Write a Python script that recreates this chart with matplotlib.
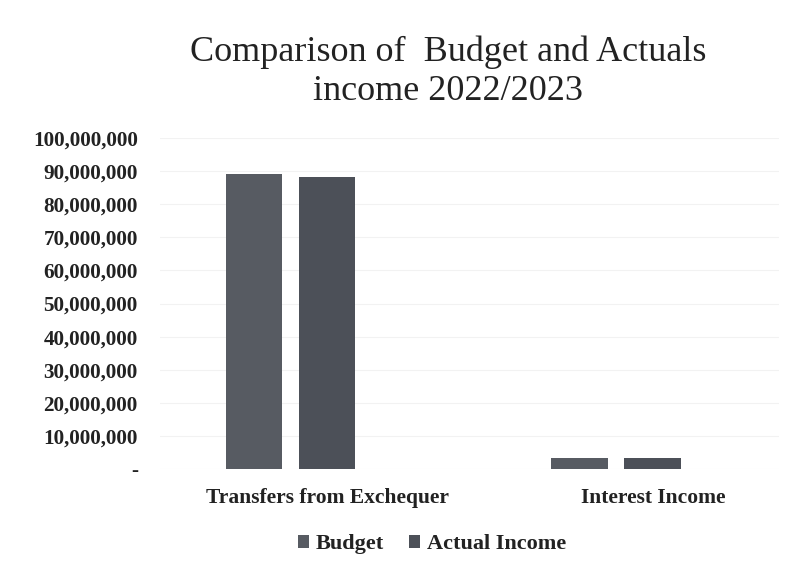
import matplotlib
matplotlib.use("Agg")
import matplotlib.pyplot as plt
import numpy as np
from matplotlib.ticker import FuncFormatter

categories = ["Transfers from Exchequer", "Interest Income"]
budget = [89100000, 3300000]
actual = [88200000, 3400000]
series_names = ["Budget", "Actual Income"]

plt.rcParams['font.family'] = ['Liberation Serif', 'DejaVu Serif']

fig = plt.figure(figsize=(7.87, 5.74), dpi=100)
# plot area from x=160 to 779 px, y=138 to 469 px
ax = fig.add_axes([160 / 787, 1 - 469 / 574, 619 / 787, 331 / 574])

x = np.arange(len(categories))
w = 0.172
off = 0.112
ax.bar(x - off, budget, width=w, color="#575b62", label=series_names[0], zorder=3)
ax.bar(x + off, actual, width=w, color="#4c5058", label=series_names[1], zorder=3)

ax.set_xlim(-0.399, 1.5)
ax.set_ylim(0, 100000000)
ax.set_yticks(np.arange(0, 100000001, 10000000))
ax.yaxis.set_major_formatter(FuncFormatter(lambda v, p: "-" if v == 0 else f"{int(v):,}"))
ax.set_xticks(x + 0.115)
ax.set_xticklabels(categories, fontsize=15.5, color="#222222", fontweight="bold")
ax.tick_params(axis='y', labelsize=15.2, labelcolor="#222222", length=0, pad=16)
ax.tick_params(axis='x', length=0, pad=14)
for lab in ax.get_yticklabels():
    lab.set_fontweight("bold")
ax.grid(axis='y', color="#f2f2f2", linewidth=0.8, zorder=0)
for s in ax.spines.values():
    s.set_visible(False)

fig.text(0.569, 0.909, "Comparison of  Budget and Actuals", ha="center", va="center",
         fontsize=26, color="#222222")
fig.text(0.569, 0.840, "income 2022/2023", ha="center", va="center",
         fontsize=26, color="#222222")

leg = fig.legend(loc="center", bbox_to_anchor=(0.549, 0.052), ncol=2, frameon=False,
                 prop={"size": 16, "weight": "bold"},
                 handlelength=0.5, handleheight=0.5, handletextpad=0.3,
                 columnspacing=1.1)
for t in leg.get_texts():
    t.set_color("#222222")

fig.savefig("out.png", dpi=100)
